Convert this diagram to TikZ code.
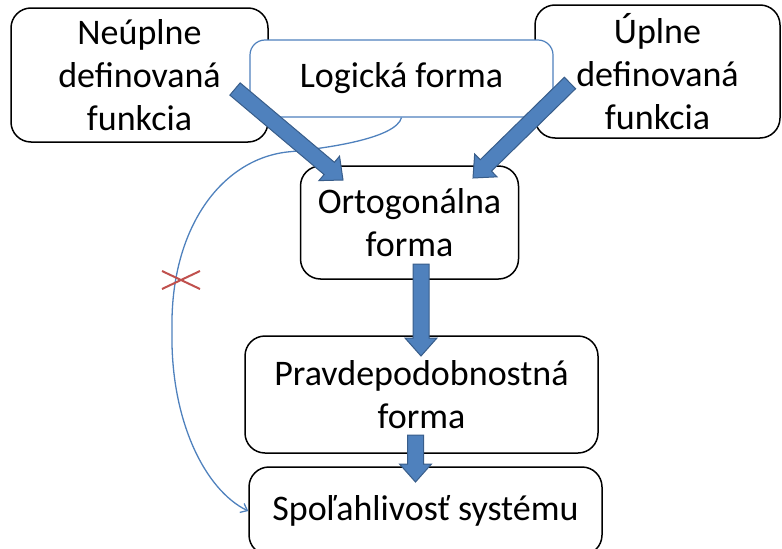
\documentclass[tikz,border=0pt]{standalone}
\usepackage{fontspec}
\setmainfont{Carlito}
\usepackage{tikz}
\usetikzlibrary{arrows.meta,calc,positioning,shapes.misc}

\definecolor{fillblue}{HTML}{4F81BD}
\definecolor{edgeblue}{HTML}{385D8A}
\definecolor{crossred}{HTML}{C0504D}

\newcommand{\fatarrow}[2]{%
	\coordinate (base) at ($(#2)!18pt!(#1)$);
	\draw [fat] ($(#1)!8pt!90:(#2)$) -- ($(base)!8pt!-90:(#1)$) -- ($(base)!16pt!-90:(#1)$) -- (#2) -- ($(base)!16pt!90:(#1)$) -- ($(base)!8pt!90:(#1)$) -- ($(#1)!8pt!-90:(#2)$) -- cycle;
}

\begin{document}
\begin{tikzpicture}[x=1pt,y=-1pt,>={Straight Barb[length=6pt,width=10pt]}]
	\tikzstyle{box} = [draw, line width=1.5pt, rounded corners=20pt, fill=white, align=center, inner sep=0pt, font=\fontsize{36}{43}\selectfont]
	\tikzstyle{fat} = [fill=fillblue, draw=edgeblue, line width=1pt, line join=miter]
	
	\useasboundingbox (0,0) rectangle (782,549);
	
	\node [box, minimum width=257pt, minimum height=134pt] (partial) at (139.5,75) {Neúplne\\definovaná\\funkcia};
	
	\node [box, minimum width=245pt, minimum height=133pt] (full) at (657.5,71.5) {Úplne\\definovaná\\funkcia};
	
	\node [box, draw=fillblue, line width=1.2pt, rounded corners=15pt, minimum width=303pt, minimum height=77pt] (logic) at (401.5,78.5) {Logická forma};
	
	\node [box, minimum width=218pt, minimum height=113pt] (ortho) at (409.5,222.5) {Ortogonálna\\forma};
	
	\node [box, minimum width=353pt, minimum height=117pt] (prob) at (421.5,394.5) {Pravdepodobnostná\\forma};
	
	\node [box, minimum width=353pt, minimum height=88pt] (rel) at (425.5,511) {Spoľahlivosť systému};
	
	\draw [->, draw=fillblue, line width=1.3pt] (logic.south) .. controls (396,138) and (330,148) .. (287,152) .. controls (220,160) and (170,230) .. (172,330) .. controls (170,420) and (205,490) .. (rel.west);
	
	\node [cross out, draw=crossred, line width=2pt, minimum width=36pt, minimum height=16pt, inner sep=0pt] (cut) at (181,280) {};
	
	\coordinate (partialOut) at (235,89);
	\coordinate (orthoInL) at (343,180);
	\coordinate (fullOut) at (570,83);
	\coordinate (orthoInR) at (473,178);
	\coordinate (orthoOut) at (421,264);
	\coordinate (probIn) at (421,356);
	\coordinate (probOut) at (415.5,435);
	\coordinate (relIn) at (415.5,482);
	
	\fatarrow{partialOut}{orthoInL}
	\fatarrow{fullOut}{orthoInR}
	\fatarrow{orthoOut}{probIn}
	\fatarrow{probOut}{relIn}
	
\end{tikzpicture}
\end{document}
